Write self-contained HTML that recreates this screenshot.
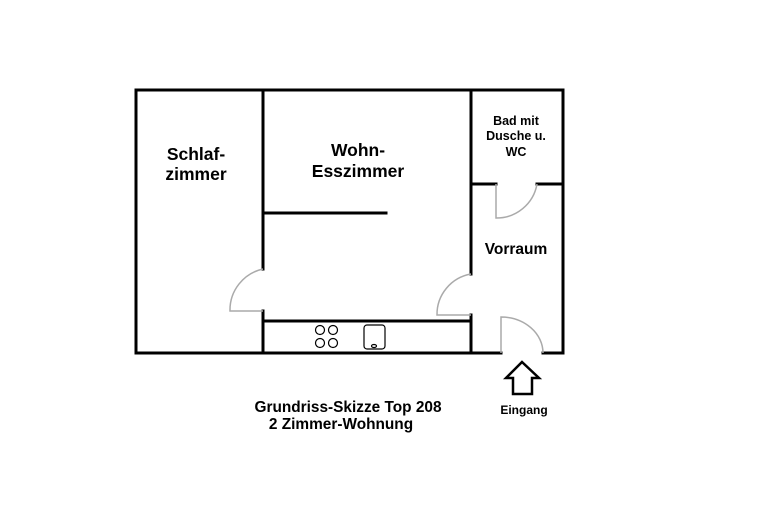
<!DOCTYPE html>
<html><head><meta charset="utf-8"><style>html,body{margin:0;padding:0;background:#fff;width:768px;height:531px;overflow:hidden}</style></head>
<body>
<svg width="768" height="531" viewBox="0 0 768 531" xmlns="http://www.w3.org/2000/svg" font-family="Liberation Sans, sans-serif" font-weight="bold">
<g stroke="#000" stroke-width="3" fill="none" stroke-linecap="square">
<path d="M501 353 L136 353 L136 90 L563 90 L563 353 L543 353"/>
<path d="M263 90 L263 269 M263 311 L263 353"/>
<path d="M471 90 L471 274 M471 315 L471 353"/>
<path d="M471 184 L496 184 M537 184 L563 184"/>
<path d="M263 213 L386 213"/>
<path d="M263 321 L471 321"/>
</g>
<g stroke="#aaa" stroke-width="1.5" fill="none">
<path d="M263 311 L230 311 A42 42 0 0 1 263 269"/>
<path d="M471 315 L437 315 A41 41 0 0 1 471 274"/>
<path d="M496 184 L496 218 A41 41 0 0 0 537 184"/>
<path d="M501 353 L501 317 A42 36 0 0 1 543 353"/>
</g>
<g stroke="#000" stroke-width="1.2" fill="none">
<circle cx="320" cy="330" r="4.5"/><circle cx="333" cy="330" r="4.5"/>
<circle cx="320" cy="343" r="4.5"/><circle cx="333" cy="343" r="4.5"/>
<rect x="364" y="325" width="21" height="24" rx="3"/>
<ellipse cx="374" cy="346" rx="2.5" ry="1.5"/>
</g>
<path d="M522 362 L539 378 L532 378 L532 394 L513 394 L513 378 L506 378 Z" stroke="#000" stroke-width="2.5" fill="#fff"/>
<g fill="#000" text-anchor="middle">
<text x="196" y="160" font-size="17.5">Schlaf-</text>
<text x="196" y="180" font-size="17.5">zimmer</text>
<text x="358" y="156" font-size="17.5">Wohn-</text>
<text x="358" y="177" font-size="17.5">Esszimmer</text>
<text x="516" y="125" font-size="12.5">Bad mit</text>
<text x="516" y="140" font-size="12.5">Dusche u.</text>
<text x="516" y="156" font-size="12.5">WC</text>
<text x="516" y="254" font-size="15.5">Vorraum</text>
<text x="348" y="412" font-size="15.4">Grundriss-Skizze Top 208</text>
<text x="341" y="429" font-size="15.4">2 Zimmer-Wohnung</text>
<text x="524" y="414" font-size="12">Eingang</text>
</g>
</svg>
</body></html>
